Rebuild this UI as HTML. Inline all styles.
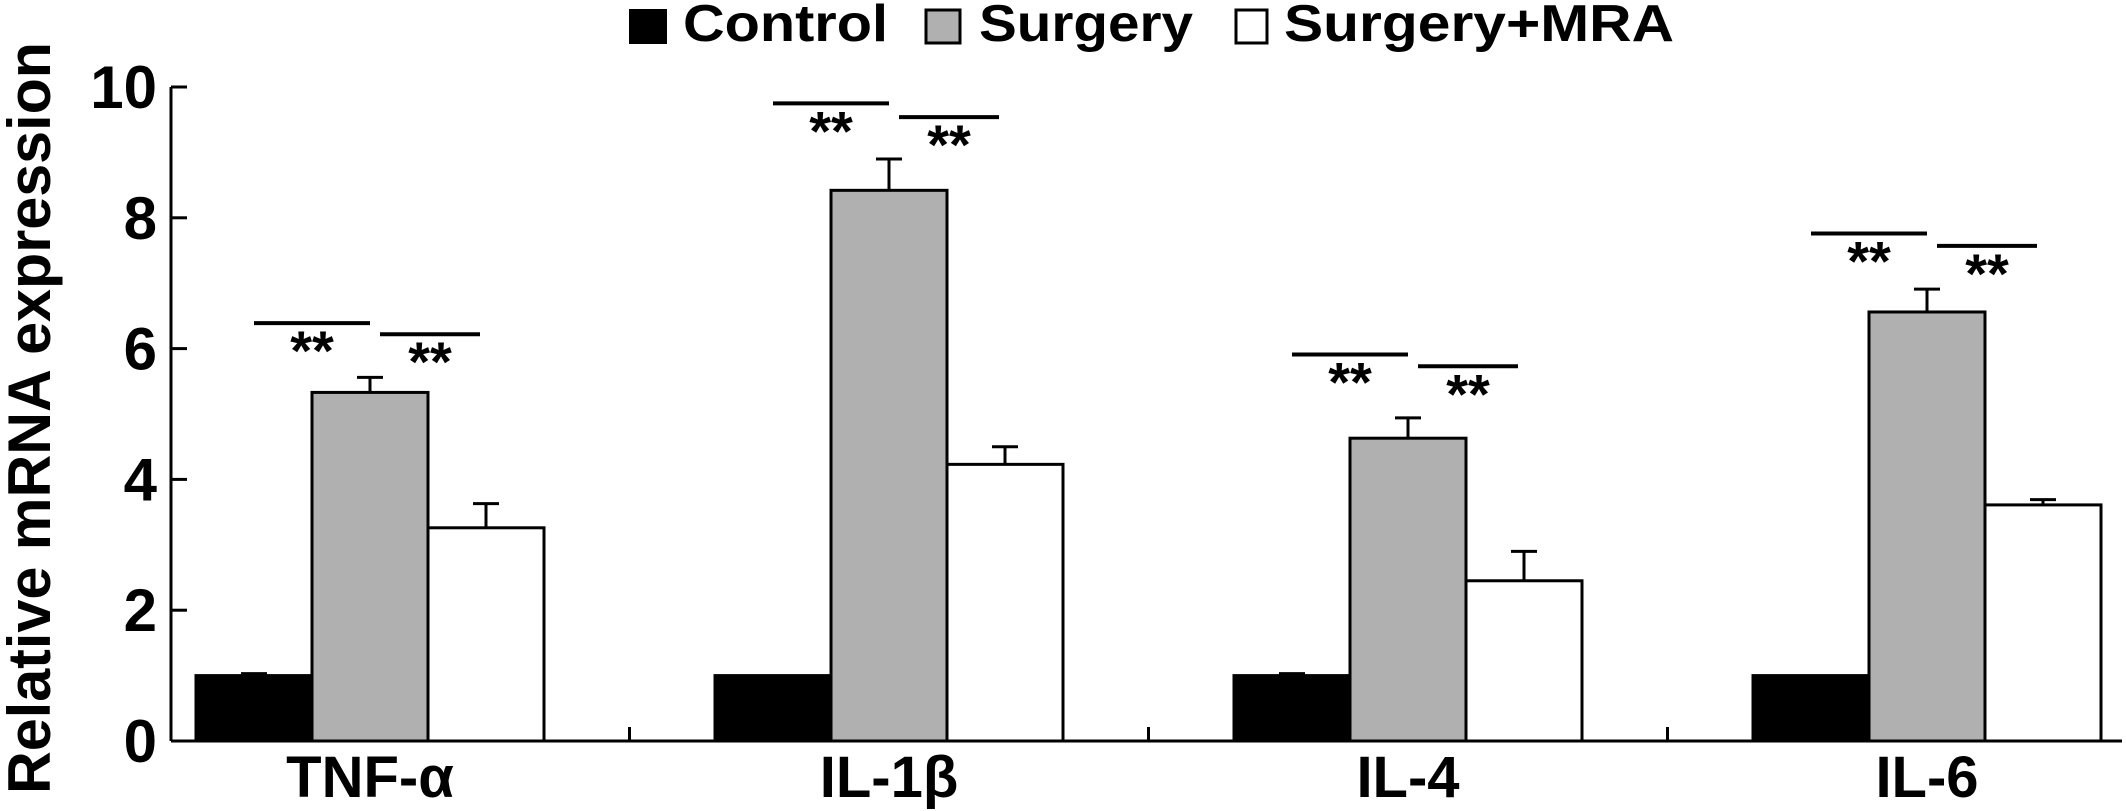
<!DOCTYPE html>
<html><head><meta charset="utf-8"><style>
html,body{margin:0;padding:0;background:#fff;}
svg{display:block;font-family:"Liberation Sans",Arial,sans-serif;font-weight:bold;}
</style></head><body>
<svg id="chart" width="2126" height="811" viewBox="0 0 2126 811" xmlns="http://www.w3.org/2000/svg">
<g>
  <rect x="630" y="10" width="36" height="33" fill="#000" stroke="#000" stroke-width="2"/>
  <text x="683" y="41" font-size="52" textLength="205" lengthAdjust="spacingAndGlyphs">Control</text>
  <rect x="926" y="10" width="34" height="33" fill="#b0b0b0" stroke="#000" stroke-width="3"/>
  <text x="979" y="41" font-size="52" textLength="214" lengthAdjust="spacingAndGlyphs">Surgery</text>
  <rect x="1236" y="10" width="31" height="33" fill="#fff" stroke="#000" stroke-width="3"/>
  <text x="1284" y="41" font-size="52" textLength="390" lengthAdjust="spacingAndGlyphs">Surgery+MRA</text>
</g>
<text transform="translate(50,418) rotate(-90)" text-anchor="middle" font-size="60" textLength="752" lengthAdjust="spacingAndGlyphs">Relative mRNA expression</text>
<g id="axes"></g>
<g id="bars"></g>
<g id="sig"></g>
</svg>
<script>
const categories = ["TNF-\u03b1", "IL-1\u03b2", "IL-4", "IL-6"];
const controlVals = [1.0, 1.0, 1.0, 1.0];
const controlErr = [0.03, 0.0, 0.03, 0.0];
const surgeryVals = [5.33, 8.42, 4.63, 6.56];
const surgeryErr = [0.23, 0.48, 0.31, 0.35];
const mraVals = [3.26, 4.23, 2.45, 3.61];
const mraErr = [0.37, 0.27, 0.45, 0.08];
const sig1Y = [6.39, 9.75, 5.91, 7.76];
const sig2Y = [6.22, 9.54, 5.73, 7.57];
const yTicks = [0, 2, 4, 6, 8, 10];

const NS = "http://www.w3.org/2000/svg";
const X0 = 171, Y0 = 741, YTOP = 87, XEND = 2122;
const yScale = v => Y0 - (v / 10) * (Y0 - YTOP);
const pitch = 519, firstCenter = 370, barW = 116;
const xCenter = i => firstCenter + i * pitch;
function mk(tag, attrs, parent) {
  const e = document.createElementNS(NS, tag);
  for (const k in attrs) e.setAttribute(k, attrs[k]);
  parent.appendChild(e);
  return e;
}
const axes = document.getElementById("axes");
const bars = document.getElementById("bars");
const sig = document.getElementById("sig");

let ax = mk("line", {x1: X0, y1: YTOP, x2: X0, y2: Y0, stroke: "#000", "stroke-width": 3}, axes);


let bx = mk("line", {x1: X0, y1: Y0, x2: XEND, y2: Y0, stroke: "#000", "stroke-width": 3}, axes);


yTicks.forEach(t => {
  const y = yScale(t);
  const tk = mk("line", {x1: X0, y1: y, x2: X0 + 16, y2: y, stroke: "#000", "stroke-width": 3}, axes);
  
  
  const lb = mk("text", {x: 157, y: y + 21, "text-anchor": "end", "font-size": 60}, axes);
  lb.textContent = String(t);
  
  
});
categories.forEach((c, i) => {
  const xt = xCenter(i) + pitch / 2;
  const tk = mk("line", {x1: xt, y1: Y0, x2: xt, y2: Y0 - 14, stroke: "#000", "stroke-width": 3}, axes);
  
  
  const lb = mk("text", {x: xCenter(i), y: 797, "text-anchor": "middle", "font-size": 58}, axes);
  lb.textContent = c;
  
  
});

const series = [
  {vals: controlVals, err: controlErr, fill: "#000", name: "control"},
  {vals: surgeryVals, err: surgeryErr, fill: "#b0b0b0", name: "surgery"},
  {vals: mraVals, err: mraErr, fill: "#fff", name: "surgery-mra"}
];
categories.forEach((c, i) => {
  const left = xCenter(i) - 1.5 * barW;
  series.forEach((s, j) => {
    const x = left + j * barW;
    const yt = yScale(s.vals[i]);
    const cx = x + barW / 2;
    if (s.err[i] > 0) {
      const ye = yScale(s.vals[i] + s.err[i]);
      const e1 = mk("line", {x1: cx, y1: yt, x2: cx, y2: ye, stroke: "#000", "stroke-width": 3}, bars);
      
      
      const e2 = mk("line", {x1: cx - 13, y1: ye, x2: cx + 13, y2: ye, stroke: "#000", "stroke-width": 3}, bars);
      
      
    }
    const r = mk("rect", {x: x, y: yt, width: barW, height: Y0 - yt, fill: s.fill, stroke: "#000", "stroke-width": 3}, bars);
    
    
  });
  const pairs = [[sig1Y[i], left + 58, left + 174], [sig2Y[i], left + 184, left + 284]];
  pairs.forEach((p, k) => {
    const y = yScale(p[0]);
    const l = mk("line", {x1: p[1], y1: y, x2: p[2], y2: y, stroke: "#000", "stroke-width": 4}, sig);
    
    
    const t = mk("text", {x: (p[1] + p[2]) / 2, y: y + 47, "text-anchor": "middle", "font-size": 56}, sig);
    t.textContent = "**";
    
    
  });
});
</script>
</body></html>
